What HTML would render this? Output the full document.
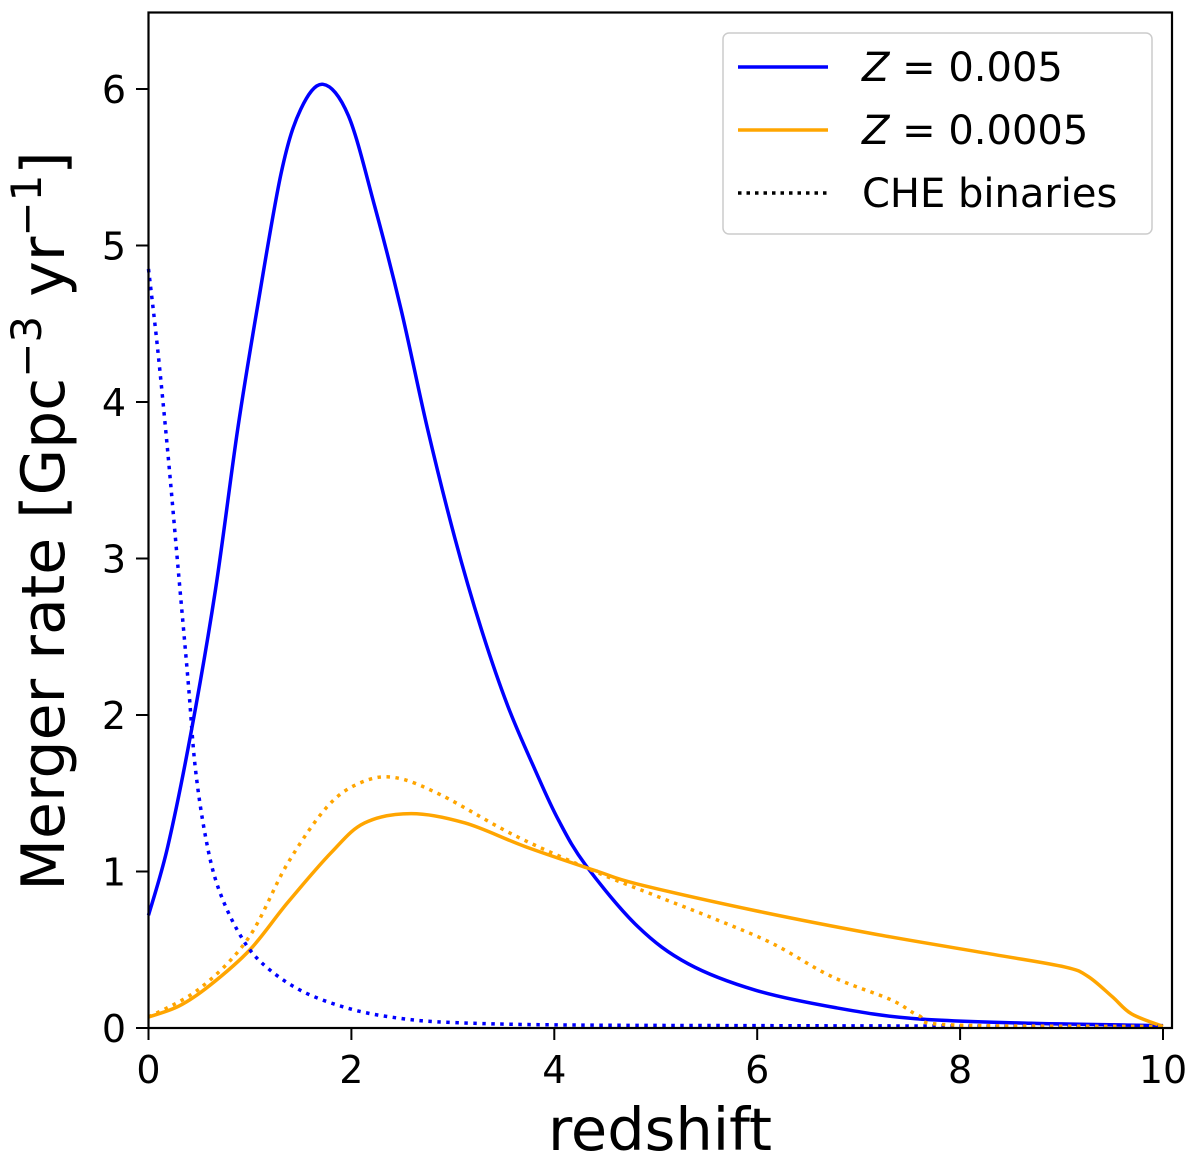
<!DOCTYPE html>
<html><head><meta charset="utf-8"><style>
body{margin:0;background:#fff}
svg{display:block;font-family:"DejaVu Sans","Liberation Sans",sans-serif}
</style></head><body>
<svg id="chart" width="1200" height="1164">
<g id="marks"></g>
<rect x="148.5" y="12.5" width="1023.5" height="1015.5" fill="none" stroke="#000" stroke-width="2.2"/>
<g id="ticks"></g>
<text x="660" y="1150" font-size="59" text-anchor="middle">redshift</text>
<text transform="translate(64,521) rotate(-90)" font-size="60" text-anchor="middle">Merger rate  [Gpc<tspan font-size="42" dy="-23">−3</tspan><tspan dy="23"> yr</tspan><tspan font-size="42" dy="-23">−1</tspan><tspan dy="23">]</tspan></text>
<g>
<rect x="723" y="33" width="429" height="201" rx="6" fill="#fff" stroke="#ccc" stroke-width="1.5"/>
<line x1="738" y1="67" x2="828" y2="67" stroke="#0000ff" stroke-width="3.5"/>
<text x="862" y="81" font-size="40"><tspan font-style="italic">Z</tspan> = 0.005</text>
<line x1="738" y1="130" x2="828" y2="130" stroke="#ffa500" stroke-width="3.5"/>
<text x="862" y="144" font-size="40"><tspan font-style="italic">Z</tspan> = 0.0005</text>
<line x1="738" y1="193" x2="828" y2="193" stroke="#000" stroke-width="3.5" stroke-dasharray="3.5,5"/>
<text x="862" y="207" font-size="40">CHE binaries</text>
</g>
</svg>
<script>
const xTicks=[0,2,4,6,8,10];
const yTicks=[0,1,2,3,4,5,6];
const blueZ=[0,0.19,0.42,0.66,0.88,1.08,1.31,1.5,1.72,1.97,2.23,2.49,2.75,3.02,3.28,3.54,3.81,4.04,4.31,4.82,5.32,5.99,6.77,7.55,8.7,10];
const blueRate=[0.72,1.16,1.89,2.8,3.83,4.63,5.47,5.87,6.03,5.83,5.25,4.59,3.83,3.13,2.55,2.06,1.65,1.33,1.04,0.65,0.41,0.24,0.13,0.06,0.03,0.015];
const blueCheZ=[0,0.09,0.19,0.29,0.39,0.46,0.56,0.68,0.88,1.11,1.5,2,2.5,3,4,6,10];
const blueCheRate=[4.85,4.34,3.68,2.95,2.22,1.67,1.23,0.91,0.62,0.42,0.24,0.12,0.06,0.035,0.02,0.015,0.01];
const orangeZ=[0,0.3,0.6,1.0,1.37,1.8,2.13,2.59,3.12,3.71,4.43,4.82,5.98,7.16,8.33,9.03,9.26,9.5,9.69,10];
const orangeRate=[0.07,0.14,0.27,0.5,0.8,1.12,1.31,1.37,1.31,1.16,1.0,0.92,0.75,0.6,0.47,0.39,0.33,0.2,0.09,0.01];
const orangeCheZ=[0,0.5,0.98,1.37,1.77,2.1,2.43,2.88,3.61,4.4,4.98,5.57,6.15,6.73,7.32,7.59,7.9,10];
const orangeCheRate=[0.07,0.25,0.57,1.05,1.42,1.57,1.6,1.49,1.23,1.0,0.85,0.7,0.54,0.33,0.18,0.08,0.02,0.01];
const NS='http://www.w3.org/2000/svg';
const sx=v=>148.5+v*101.45;
const sy=v=>1028-v*156.5;
const marks=document.getElementById('marks');
function catmull(xs,ys){
  const p=xs.map((x,i)=>[sx(x),sy(ys[i])]);
  let d='M'+p[0][0]+','+p[0][1];
  for(let i=0;i<p.length-1;i++){
    const p0=p[i-1]||p[i],p1=p[i],p2=p[i+1],p3=p[i+2]||p2;
    const c1=[p1[0]+(p2[0]-p0[0])/6,p1[1]+(p2[1]-p0[1])/6];
    const c2=[p2[0]-(p3[0]-p1[0])/6,p2[1]-(p3[1]-p1[1])/6];
    d+=' C'+c1+' '+c2+' '+p2;
  }
  return d;
}
function series(xs,ys,color,dotted,name){
  const el=document.createElementNS(NS,'path');
  el.setAttribute('d',catmull(xs,ys));
  el.setAttribute('fill','none');
  el.setAttribute('stroke',color);
  el.setAttribute('stroke-width','3.5');
  if(dotted)el.setAttribute('stroke-dasharray','3.5,5.5');
  
  
  marks.appendChild(el);
}
series(blueZ,blueRate,'#0000ff',false,'line-z005');
series(orangeZ,orangeRate,'#ffa500',false,'line-z0005');
series(blueCheZ,blueCheRate,'#0000ff',true,'line-z005-che');
series(orangeCheZ,orangeCheRate,'#ffa500',true,'line-z0005-che');
const ticks=document.getElementById('ticks');
xTicks.forEach(v=>{
  const l=document.createElementNS(NS,'line');
  l.setAttribute('x1',sx(v));l.setAttribute('x2',sx(v));l.setAttribute('y1',1028);l.setAttribute('y2',1040);
  l.setAttribute('stroke','#000');l.setAttribute('stroke-width','2');
  
  
  ticks.appendChild(l);
  const t=document.createElementNS(NS,'text');
  t.setAttribute('x',sx(v));t.setAttribute('y',1083);t.setAttribute('font-size','38');t.setAttribute('text-anchor','middle');
  t.textContent=v;
  
  
  ticks.appendChild(t);
});
yTicks.forEach(v=>{
  const l=document.createElementNS(NS,'line');
  l.setAttribute('x1',136);l.setAttribute('x2',148.5);l.setAttribute('y1',sy(v));l.setAttribute('y2',sy(v));
  l.setAttribute('stroke','#000');l.setAttribute('stroke-width','2');
  
  
  ticks.appendChild(l);
  const t=document.createElementNS(NS,'text');
  t.setAttribute('x',126);t.setAttribute('y',sy(v)+14);t.setAttribute('font-size','38');t.setAttribute('text-anchor','end');
  t.textContent=v;
  
  
  ticks.appendChild(t);
});
</script>
</body></html>
